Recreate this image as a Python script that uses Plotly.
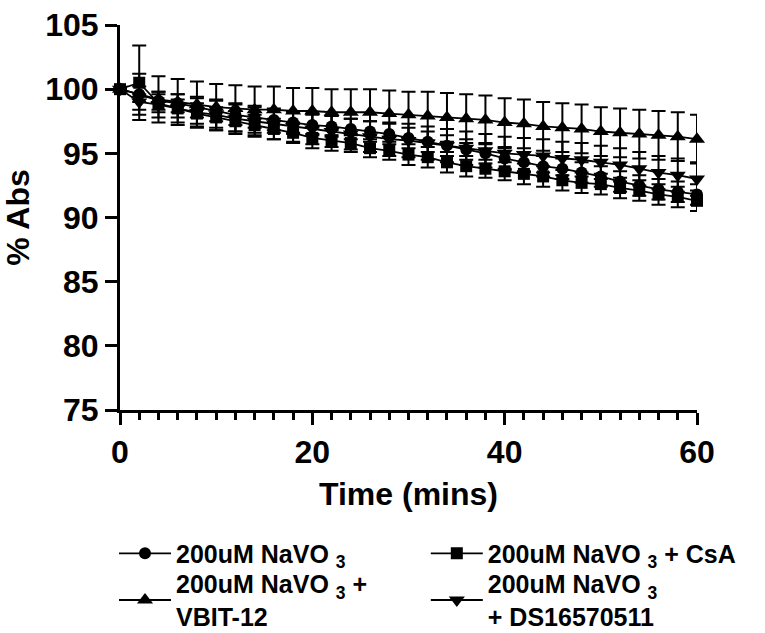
import plotly.graph_objects as go

time = list(range(0, 61, 2))

navo3 = [100.0, 99.6, 99.1, 98.9, 98.6, 98.3, 98.0, 97.8, 97.6, 97.4, 97.2, 97.1, 96.9, 96.7, 96.5, 96.2,
         95.9, 95.6, 95.3, 95.0, 94.6, 94.3, 94.0, 93.8, 93.5, 93.2, 92.8, 92.5, 92.2, 92.0, 91.8]
navo3_sd = [0.0, 0.6, 0.7, 0.7, 0.8, 0.8, 0.8, 0.8, 0.8, 0.8, 0.8, 0.8, 0.8, 0.8, 0.8, 0.8,
            0.8, 0.8, 0.8, 0.8, 0.8, 0.8, 0.8, 0.8, 0.8, 0.8, 0.8, 0.8, 0.8, 0.8, 0.8]

csa = [100.0, 100.5, 98.9, 98.5, 98.1, 97.8, 97.5, 97.2, 96.9, 96.6, 96.2, 96.0, 95.8, 95.4, 95.2, 94.9,
       94.7, 94.3, 94.0, 93.8, 93.6, 93.4, 93.2, 92.9, 92.7, 92.6, 92.3, 92.1, 91.8, 91.6, 91.3]
csa_sd = [0.0, 2.9, 0.7, 0.7, 0.8, 0.8, 0.8, 0.8, 0.8, 0.8, 0.8, 0.8, 0.7, 0.7, 0.7, 0.8,
          0.8, 0.8, 0.8, 0.7, 0.7, 0.8, 0.8, 0.8, 0.8, 0.8, 0.8, 0.8, 0.8, 0.8, 0.8]

vbit = [100.0, 99.6, 99.2, 99.0, 98.8, 98.6, 98.5, 98.4, 98.4, 98.3, 98.3, 98.2, 98.2, 98.2, 98.1, 98.0,
        97.9, 97.8, 97.7, 97.6, 97.4, 97.3, 97.1, 97.0, 96.9, 96.7, 96.6, 96.5, 96.4, 96.3, 96.1]
vbit_sd = [0.0, 1.6, 1.8, 1.8, 1.8, 1.8, 1.8, 1.8, 1.8, 1.8, 1.8, 1.8, 1.8, 1.8, 1.8, 1.8,
           1.9, 1.9, 1.9, 1.9, 1.9, 1.9, 1.9, 1.9, 1.9, 1.9, 1.9, 1.9, 1.9, 1.9, 1.9]

ds = [100.0, 99.0, 98.8, 98.5, 98.2, 98.0, 97.7, 97.5, 97.3, 97.1, 96.9, 96.7, 96.5, 96.3, 96.1, 96.0,
      95.8, 95.6, 95.4, 95.2, 95.0, 94.9, 94.8, 94.6, 94.5, 94.3, 94.1, 93.8, 93.5, 93.3, 93.0]
ds_sd = [0.0, 0.6, 1.0, 1.1, 1.1, 1.2, 1.2, 1.2, 1.2, 1.2, 1.2, 1.2, 1.2, 1.2, 1.3, 1.3,
         1.3, 1.3, 1.3, 1.3, 1.3, 1.3, 1.3, 1.3, 1.3, 1.3, 1.3, 1.3, 1.3, 1.3, 1.3]

names = ["200uM NaVO <sub>3</sub>",
         "200uM NaVO <sub>3</sub> + CsA",
         "200uM NaVO <sub>3</sub> +<br>VBIT-12",
         "200uM NaVO <sub>3</sub><br>+ DS16570511"]
series = [navo3, csa, vbit, ds]
sds = [navo3_sd, csa_sd, vbit_sd, ds_sd]
symbols = ["circle", "square", "triangle-up", "triangle-down"]
sizes = [12, 12, 14, 14]
legend_ids = ["legend", "legend2", "legend3", "legend4"]

FONT = "Liberation Sans, Arial, sans-serif"

fig = go.Figure()
for nm, y, sd, sym, sz, lg in zip(names, series, sds, symbols, sizes, legend_ids):
    fig.add_trace(go.Scatter(
        x=time, y=y, name=nm, mode="lines+markers", legend=lg,
        line=dict(color="black", width=1.8),
        marker=dict(symbol=sym, size=sz, color="black"),
        error_y=dict(type="data", array=sd, visible=True, color="black", thickness=2, width=7),
        cliponaxis=False,
    ))

leg_font = dict(family=FONT, size=25, color="black", weight="bold")
leg_common = dict(xanchor="left", yanchor="middle", itemwidth=52, font=leg_font,
                  bgcolor="rgba(0,0,0,0)", borderwidth=0)

fig.update_layout(
    width=765, height=633,
    margin=dict(l=120, r=68, t=25, b=223, autoexpand=False),
    paper_bgcolor="white", plot_bgcolor="white",
    font=dict(family=FONT, color="black"),
    showlegend=True,
    legend=dict(x=-0.0104, y=-0.373, **leg_common),
    legend2=dict(x=0.530, y=-0.373, **leg_common),
    legend3=dict(x=-0.0104, y=-0.4935, **leg_common),
    legend4=dict(x=0.530, y=-0.4935, **leg_common),
    xaxis=dict(
        range=[0, 60], tickvals=[0, 20, 40, 60], showgrid=False, zeroline=False,
        showline=True, linecolor="black", linewidth=3,
        ticks="outside", ticklen=12, tickwidth=3, tickcolor="black",
        minor=dict(dtick=2, ticks="outside", ticklen=7, tickwidth=3, tickcolor="black", showgrid=False),
        tickfont=dict(family=FONT, size=32, color="black", weight="bold"),
        title=dict(text="Time (mins)", font=dict(family=FONT, size=32, color="black", weight="bold"), standoff=14),
    ),
    yaxis=dict(
        range=[75, 105], tickvals=[75, 80, 85, 90, 95, 100, 105], showgrid=False, zeroline=False,
        showline=True, linecolor="black", linewidth=3,
        ticks="outside", ticklen=12, tickwidth=3, tickcolor="black",
        tickfont=dict(family=FONT, size=32, color="black", weight="bold"),
        title=dict(text="% Abs", font=dict(family=FONT, size=32, color="black", weight="bold"), standoff=8),
    ),
)

fig.write_html("out.html")
